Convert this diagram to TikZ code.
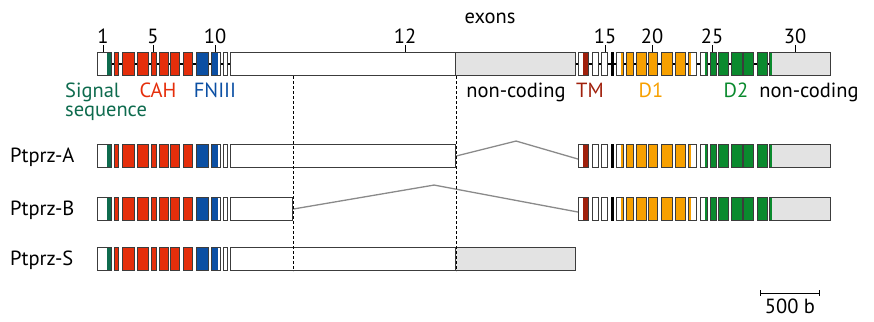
\documentclass[tikz,border=0pt]{standalone}
\usepackage{fontspec}
\setmainfont{PT Sans}
\usetikzlibrary{arrows.meta,calc,backgrounds}
\definecolor{exline}{HTML}{3C3C3C}
\definecolor{sigc}{HTML}{0E6B4E}
\definecolor{cahc}{HTML}{E52E0B}
\definecolor{fnc}{HTML}{0B4FA3}
\definecolor{tmc}{HTML}{A0200C}
\definecolor{dlc}{HTML}{F7A000}
\definecolor{dtc}{HTML}{0A8A2E}
\definecolor{ncc}{HTML}{E3E3E3}
\definecolor{splc}{HTML}{8A8A8A}
\newcommand{\exon}[5]{\node[exon,#5,minimum width={(#3-#2)*1pt}] (#1) at (#2,#4) {};}
\tikzset{
  exon/.style={draw=exline, line width=1.1pt, fill=white, inner sep=0pt,
               minimum height=23pt, anchor=north west},
  tailfill/.style 2 args={path picture={\fill[#1]
      ($(path picture bounding box.south east)!#2!(path picture bounding box.south west)$)
      rectangle (path picture bounding box.north east);}},
  headfill/.style 2 args={path picture={\fill[#1]
      (path picture bounding box.south west) rectangle
      ($(path picture bounding box.north west)!#2!(path picture bounding box.north east)$);}},
  sigx/.style={tailfill={sigc}{0.3}},
  cah/.style={fill=cahc},
  fn/.style={fill=fnc},
  fnx/.style={fill=fnc, tailfill={white}{0.25}},
  blank/.style={fill=white},
  tmx/.style={tailfill={tmc}{0.6}},
  dark/.style={fill=black, draw=black},
  dlx/.style={tailfill={dlc}{0.4}},
  dl/.style={fill=dlc},
  dlw/.style={headfill={dlc}{0.3}},
  dtx/.style={tailfill={dtc}{0.3}},
  dt/.style={fill=dtc},
  nc/.style={fill=ncc},
  ncx/.style={fill=ncc, headfill={dtc}{0.04}},
  intron/.style={line width=2.6pt, black},
  splice/.style={line width=1.3pt, color=splc},
  cut/.style={line width=0.8pt, dash pattern=on 3pt off 2pt},
  lbl/.style={font=\fontsize{20.5}{18.5}\selectfont, inner sep=0pt}}

\begin{document}
\begin{tikzpicture}[x=1pt, y=-1pt]
  \useasboundingbox (0,0) rectangle (874,321);

  % exons 1-11, shared by all transcripts
  \foreach \r/\y in {t/52, a/144, b/197, s/247}
    \foreach \n/\xa/\xb/\s in {1/97/111/sigx, 2/114/118/cah, 3/122/134/cah,
        4/137/148/cah, 5/151/156/cah, 6/159/168/cah, 7/170/179/cah,
        8/183/192/cah, 9/196/208/fn, 10/211/220/fnx, 11/223/227/blank}
      {\exon{\r\n}{\xa}{\xb}{\y}{\s}}

  % exon 12 and its variants
  \exon{t12}{230}{455}{52}{blank}
  \exon{t12n}{455}{575}{52}{nc}
  \exon{a12}{230}{455}{144}{blank}
  \exon{b12}{230}{292}{197}{blank}
  \exon{s12}{230}{455}{247}{blank}
  \exon{s12n}{455}{575}{247}{nc}

  % exons 13-30
  \foreach \r/\y in {t/52, a/144, b/197}
    \foreach \n/\xa/\xb/\s in {13/578/588/tmx, 14/592/598/blank, 15/601/607/blank,
        16/611/613/dark, 17/616/623/dlx, 18/626/633/dl, 19/636/646/dl,
        20/648/657/dl, 21/661/672/dl, 22/675/685/dl, 23/688/696/dlw,
        24/700/707/dtx, 25/710/716/dt, 26/718/728/dt, 27/731/742/dt,
        28/743/753/dt, 29/757/767/dt, 30/769/830/ncx}
      {\exon{\r\n}{\xa}{\xb}{\y}{\s}}

  \begin{scope}[on background layer]
    \draw[intron] (t1.center) -- (t12.center);
    \draw[intron] (t12n.center) -- (t30.center);
  \end{scope}

  % exon numbering
  \node[lbl, anchor=base] (exl) at (490,24) {exons};
  \foreach \k/\xk in {1/103, 5/153, 10/215, 12/405, 15/605, 20/652, 25/712, 30/795} {
    \node[lbl, anchor=base] (n\k) at (\xk,44) {\k};
    \draw[line width=0.8pt] ([yshift=-1pt]n\k.base) -- (n\k.base |- t1.north);
  }

  % domains
  \node[lbl, anchor=base west, align=left, text=sigc] (sigl) at (65,116) {Signal\\sequence};
  \node[lbl, anchor=base, text=cahc] (cahl) at (158,97) {CAH};
  \node[lbl, anchor=base, text=fnc] (fnl) at (215,97) {FNIII};
  \node[lbl, anchor=base] (ncl1) at (516,97) {non-coding};
  \node[lbl, anchor=base, text=tmc] (tml) at (590,97) {TM};
  \node[lbl, anchor=base, text=dlc] (dll) at (651,97) {D1};
  \node[lbl, anchor=base, text=dtc] (dtl) at (736,97) {D2};
  \node[lbl, anchor=base] (ncl2) at (809,97) {non-coding};

  % transcripts
  \node[lbl, anchor=base west] (pa) at (10,162) {Ptprz-A};
  \node[lbl, anchor=base west] (pb) at (10,215) {Ptprz-B};
  \node[lbl, anchor=base west] (ps) at (10,265) {Ptprz-S};

  % splice junctions
  \draw[splice] (a12.east) -- ++(60,-15) -- ([yshift=-3pt]a13.west);
  \draw[splice] (b12.east) -- ++(141,-24) -- ([yshift=-3pt]b13.west);

  \draw[cut] (b12.east |- t12.south) -- (b12.east |- s12.south);
  \draw[cut] (a12.east |- t12.south) -- (a12.east |- s12.south);

  % scale bar
  \coordinate (sbl) at (760,293);
  \coordinate (sbr) at (820,293);
  \draw[line width=1pt, {Bar[width=6pt]}-{Bar[width=6pt]}] (sbl) -- (sbr);
  \node[lbl, anchor=base] (sbt) at ($(sbl)!0.5!(sbr)$) [yshift=-20pt] {500 b};
\end{tikzpicture}
\end{document}
